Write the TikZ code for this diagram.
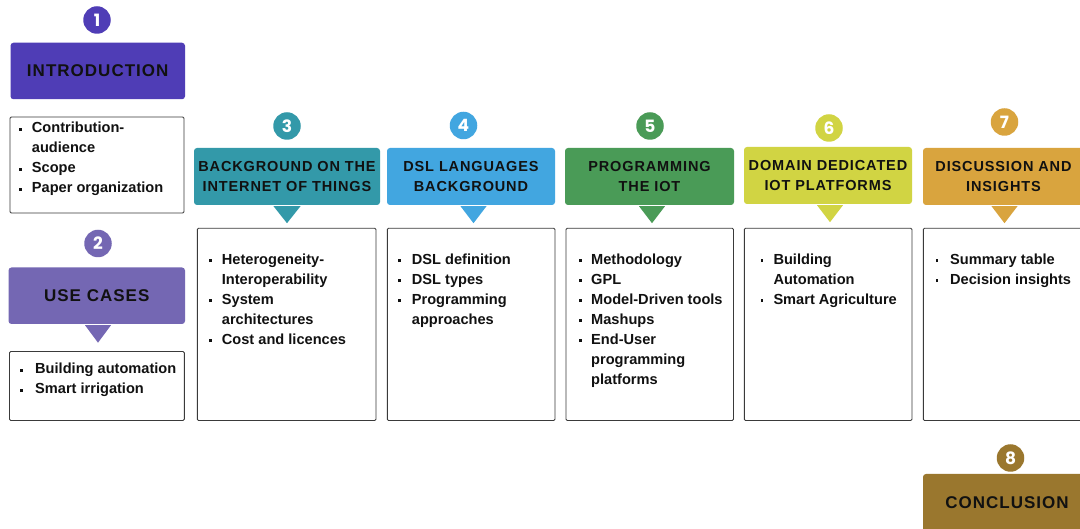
\documentclass[tikz,border=0pt]{standalone}
\usepackage{fontspec}
\setmainfont{Liberation Sans}
\newfontfamily\hdrfont[LetterSpace=6]{Liberation Sans}
\newfontfamily\numfont{Poppins}
\definecolor{cA}{HTML}{4F3DB6}
\definecolor{cB}{HTML}{7467B3}
\definecolor{cC}{HTML}{3399A9}
\definecolor{cD}{HTML}{42A6E0}
\definecolor{cE}{HTML}{4A9B57}
\definecolor{cF}{HTML}{D1D443}
\definecolor{cG}{HTML}{D9A43E}
\definecolor{cH}{HTML}{9A772E}
\definecolor{txt}{HTML}{111111}
\definecolor{frame}{HTML}{3A3A3A}
\newlength\bw
\newcommand\bul{\makebox[\bw][l]{\hspace{0.3pt}\raisebox{2.4pt}{\rule{2.8pt}{2.8pt}}}}
\newcommand\itm[1]{\hbox{\bul#1}}
\newcommand\cnt[1]{\hbox{\hspace{\bw}#1}}
\newcommand\lst[2][13.4pt]{\vtop{\setlength\bw{#1}\baselineskip=20pt #2}}
\tikzset{
  hdr/.style={rounded corners=3pt, inner sep=0pt, align=center, text=txt,
    font=\hdrfont\bfseries\fontsize{14.5}{19.5}\selectfont},
  bighdr/.style={hdr, font=\hdrfont\bfseries\fontsize{17}{20}\selectfont},
  listbox/.style={draw=frame, line width=0.9pt, rounded corners=1.2pt},
  num/.style={circle, minimum size=27.5pt, inner sep=0pt, text=white,
    font=\numfont\bfseries\fontsize{17}{17}\selectfont},
  itemtext/.style={anchor=base west, inner sep=0pt, text=txt,
    font=\bfseries\fontsize{14.6}{20}\selectfont}
}
\begin{document}
\begin{tikzpicture}[x=1pt,y=-1pt]
\useasboundingbox (0,0) rectangle (1080,529);
\clip (0,0) rectangle (1080,529);
\fill[white] (0,0) rectangle (1080,529);

% ---- numbers
\node[num, fill=cA] (n1) at (97,20) {1};
\node[num, fill=cB] (n2) at (98,243.5) {2};
\node[num, fill=cC] (n3) at (287,126) {3};
\node[num, fill=cD] (n4) at (463.5,125.5) {4};
\node[num, fill=cE] (n5) at (650,126) {5};
\node[num, fill=cF] (n6) at (829,128) {6};
\node[num, fill=cG] (n7) at (1004.5,122) {7};
\node[num, fill=cH] (n8) at (1010.5,458) {8};

% ---- headers
\node[bighdr, fill=cA, minimum width=174.5pt, minimum height=56.5pt] (h1) at (97.75,71) {INTRODUCTION};
\node[bighdr, fill=cB, minimum width=176.5pt, minimum height=56.5pt] (h2) at (96.75,295.75) {USE CASES};
\node[hdr, fill=cC, minimum width=186pt, minimum height=57pt] (h3) at (287,176.5) {BACKGROUND ON THE\\INTERNET OF THINGS};
\node[hdr, fill=cD, minimum width=168pt, minimum height=57pt] (h4) at (471,176.5) {DSL LANGUAGES\\BACKGROUND};
\node[hdr, fill=cE, minimum width=169pt, minimum height=57pt] (h5) at (649.5,176.5) {PROGRAMMING\\THE IOT};
\node[hdr, fill=cF, minimum width=168pt, minimum height=57pt] (h6) at (828,175.5) {DOMAIN DEDICATED\\IOT PLATFORMS};
\node[hdr, fill=cG, minimum width=161pt, minimum height=57pt] (h7) at (1003.5,176.5) {DISCUSSION AND\\INSIGHTS};
\node[bighdr, fill=cH, minimum width=168pt, minimum height=58pt] (h8) at (1007,503) {CONCLUSION};

% ---- pointers
\fill[cB] (h2.south) ++(-11.75,1) -- ++(26,0) -- ++(-13,17.5) -- cycle;
\fill[cC] (h3.south) ++(-13.5,1) -- ++(27,0) -- ++(-13.5,17) -- cycle;
\fill[cD] (h4.south) ++(-10.5,1) -- ++(26,0) -- ++(-13,17) -- cycle;
\fill[cE] (h5.south) ++(-10.5,1) -- ++(26,0) -- ++(-13,17) -- cycle;
\fill[cF] (h6.south) ++(-11,1) -- ++(26,0) -- ++(-13,17) -- cycle;
\fill[cG] (h7.south) ++(-12,1) -- ++(26,0) -- ++(-13,17) -- cycle;

% ---- list frames
\draw[listbox] (10,117) rectangle (184,213);
\draw[listbox] (9.5,351.5) rectangle (184.3,420.5);
\draw[listbox] (197.3,228.3) rectangle (376,420.5);
\draw[listbox] (387.3,228.3) rectangle (555,420.5);
\draw[listbox] (566,228.3) rectangle (733.5,420.5);
\draw[listbox] (744.3,228.3) rectangle (912,420.5);
\draw[listbox] (923.3,228.3) rectangle (1095,420.5);

% ---- list texts
\node[itemtext] (t1) at (18.3,133) {\lst{\itm{Contribution-}\cnt{audience}\itm{Scope}\itm{Paper organization}}};
\node[itemtext] (t2) at (19.3,374) {\lst[15.7pt]{\itm{Building automation}\itm{Smart irrigation}}};
\node[itemtext] (t3) at (208.3,264.5) {\lst{\itm{Heterogeneity-}\cnt{Interoperability}\itm{System}\cnt{architectures}\itm{Cost and licences}}};
\node[itemtext] (t4) at (397.3,264.5) {\lst[14.4pt]{\itm{DSL definition}\itm{DSL types}\itm{Programming}\cnt{approaches}}};
\node[itemtext] (t5) at (578.3,264.5) {\lst[12.7pt]{\itm{Methodology}\itm{GPL}\itm{Model-Driven tools}\itm{Mashups}\itm{End-User}\cnt{programming}\cnt{platforms}}};
\node[itemtext] (t6) at (760,264.5) {\lst[13.3pt]{\itm{Building}\cnt{Automation}\itm{Smart Agriculture}}};
\node[itemtext] (t7) at (935,264.5) {\lst[15pt]{\itm{Summary table}\itm{Decision insights}}};
\end{tikzpicture}
\end{document}
